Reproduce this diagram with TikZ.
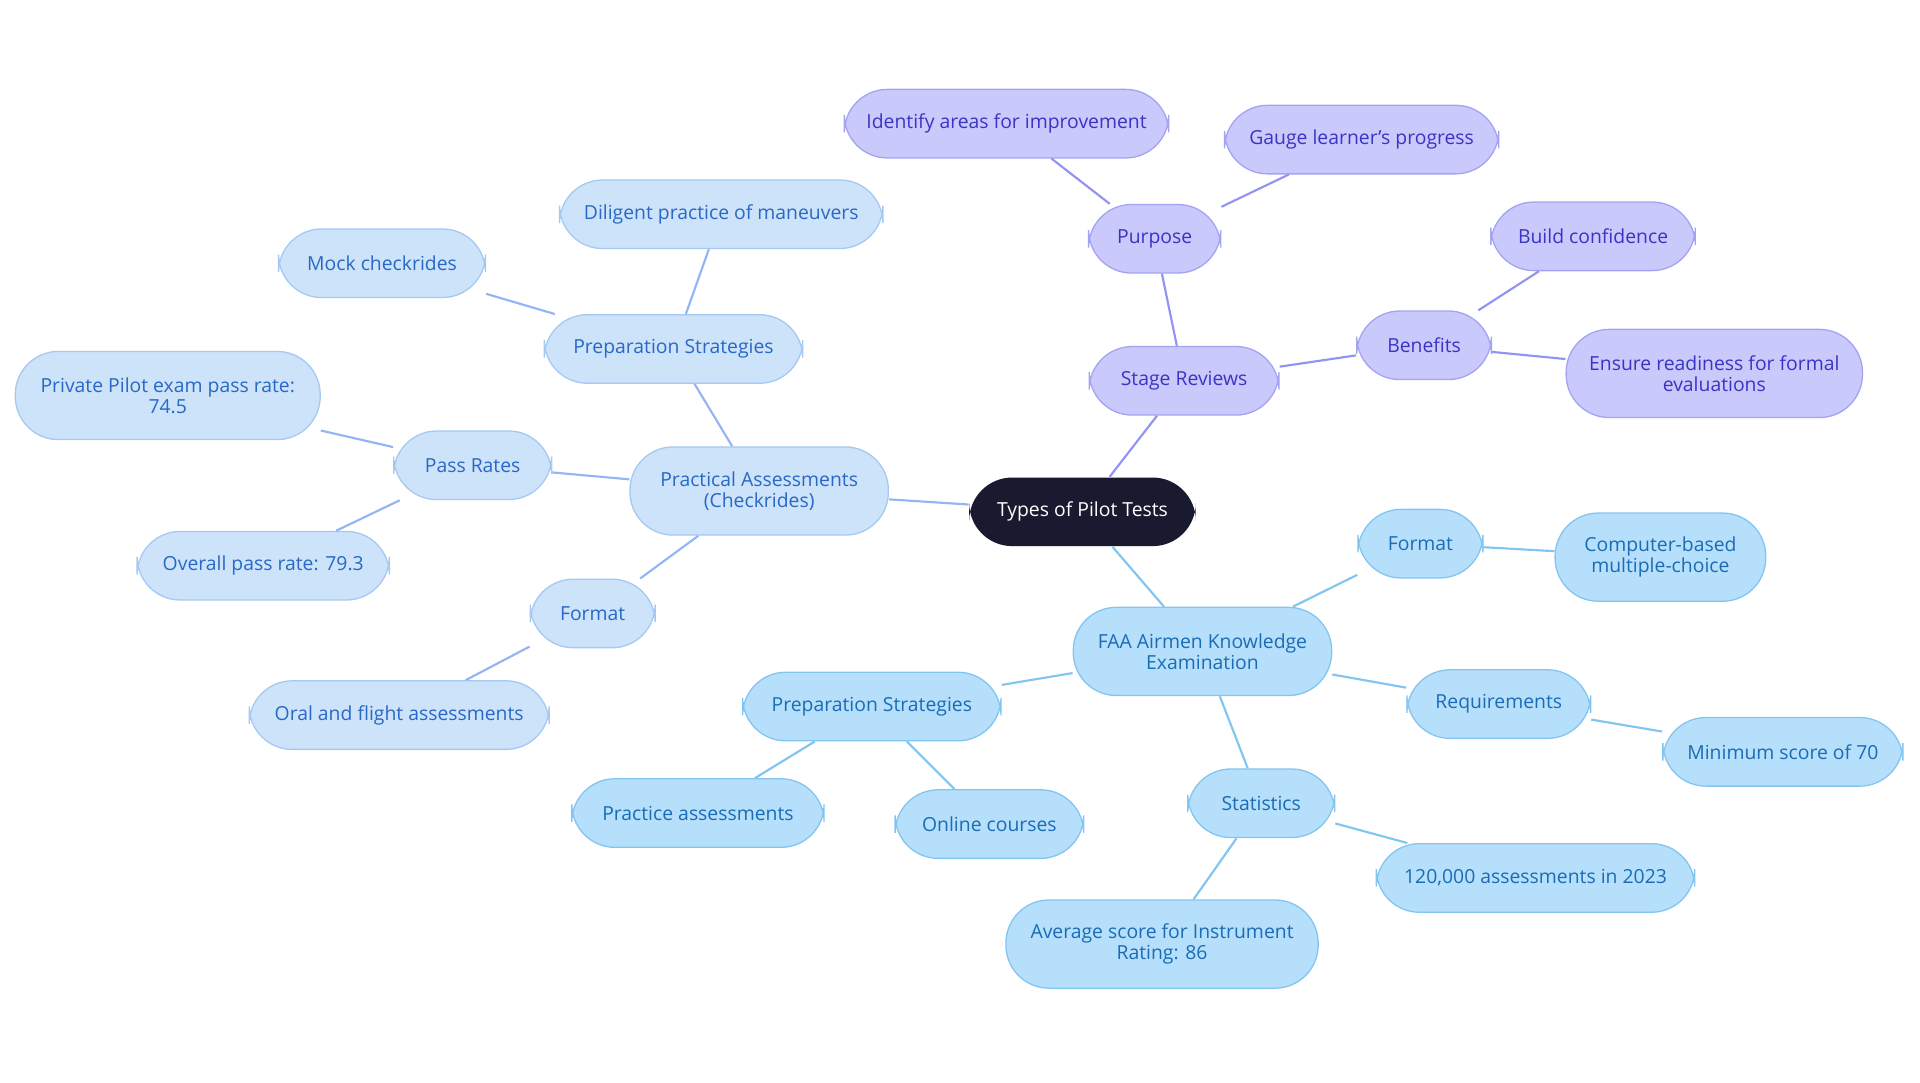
\documentclass[tikz,border=0pt]{standalone}
\usepackage{fontspec}
\setmainfont{Open Sans}
\usetikzlibrary{positioning}
\definecolor{purfill}{HTML}{C9C9FB}
\definecolor{purline}{HTML}{A3A3F2}
\definecolor{purtext}{HTML}{3A34C4}
\definecolor{lbfill}{HTML}{CDE3FA}
\definecolor{lbline}{HTML}{A5C9F2}
\definecolor{lbtext}{HTML}{2868C6}
\definecolor{bfill}{HTML}{B5DFFB}
\definecolor{bline}{HTML}{82C5F1}
\definecolor{btext}{HTML}{1B6CB5}
\begin{document}
\begin{tikzpicture}[x=0.02cm,y=-0.02cm,
	topic/.style={
	rectangle,rounded corners=20pt,
	line width=0.6pt,
	minimum height=56*0.02cm,
	inner xsep=8pt,
	align=center,
	font=\fontsize{9}{9.6}\selectfont
	},pur/.style={topic,fill=purfill,draw=purline,text=purtext
	},lb/.style={topic,fill=lbfill,draw=lbline,text=lbtext
	},bl/.style={topic,fill=bfill,draw=bline,text=btext
	},root/.style={topic,fill=black!90!blue!90,text=white,minimum width=185*0.02cm
	},wide/.style={minimum width=#1*0.02cm},
	purlink/.style={draw=purline!90!blue,line width=1pt},
	lblink/.style={draw=lbline!90!blue,line width=1pt},
	blink/.style={draw=bline,line width=1pt}
]
\useasboundingbox (0,0) rectangle (1568,884);

% root
\node (root) [root] at (884,418) {Types of Pilot Tests};

% stage reviews branch
\node (stage) [pur,wide=155] at (967,311) {Stage Reviews};
\node (purpose) [pur,wide=108] at (943,195) {Purpose};
\node (identify) [pur,wide=265] at (822,101) {Identify areas for improvement};
\node (gauge) [pur,wide=224] at (1112,114) {Gauge learner's progress};
\node (benefits) [pur,wide=110] at (1163,282) {Benefits};
\node (confid) [pur,wide=167] at (1301,193) {Build confidence};
\node (ready) [pur,wide=242,minimum height=72*0.02cm] at (1400,305) {Ensure readiness for formal\\evaluations};

% practical assessments branch
\node (practical) [lb,wide=211,minimum height=72*0.02cm] at (620,401) {Practical Assessments\\(Checkrides)};
\node (prep1) [lb,wide=211] at (550,285) {Preparation Strategies};
\node (diligent) [lb,wide=264] at (589,175) {Diligent practice of maneuvers};
\node (mock) [lb,wide=169] at (312,215) {Mock checkrides};
\node (pass) [lb,wide=129] at (386,380) {Pass Rates};
\node (private) [lb,wide=249,minimum height=72*0.02cm] at (137,323) {Private Pilot exam pass rate:\\74.5};
\node (overall) [lb,wide=206] at (215,462) {Overall pass rate: 79.3};
\node (format1) [lb,wide=102] at (484,501) {Format};
\node (oral) [lb,wide=245] at (326,584) {Oral and flight assessments};

% knowledge exam branch
\node (faa) [bl,wide=211,minimum height=72*0.02cm] at (982,532) {FAA Airmen Knowledge\\Examination};
\node (format2) [bl,wide=102] at (1160,444) {Format};
\node (computer) [bl,wide=172,minimum height=72*0.02cm] at (1356,455) {Computer-based\\multiple-choice};
\node (req) [bl,wide=150] at (1224,575) {Requirements};
\node (minscore) [bl,wide=196] at (1456,614) {Minimum score of 70};
\node (stats) [bl,wide=120] at (1030,656) {Statistics};
\node (count) [bl,wide=260] at (1254,717) {120,000 assessments in 2023};
\node (average) [bl,wide=255,minimum height=72*0.02cm] at (949,771) {Average score for Instrument\\Rating: 86};
\node (prep2) [bl,wide=211] at (712,577) {Preparation Strategies};
\node (practice) [bl,wide=206] at (570,664) {Practice assessments};
\node (online) [bl,wide=154] at (808,673) {Online courses};

\path	(root) edge[purlink] (stage)
	(stage) edge[purlink] (purpose)
	(purpose) edge[purlink] (identify)
	(purpose) edge[purlink] (gauge)
	(stage) edge[purlink] (benefits)
	(benefits) edge[purlink] (confid)
	(benefits) edge[purlink] (ready);
\path	(root) edge[lblink] (practical)
	(practical) edge[lblink] (prep1)
	(prep1) edge[lblink] (diligent)
	(prep1) edge[lblink] (mock)
	(practical) edge[lblink] (pass)
	(pass) edge[lblink] (private)
	(pass) edge[lblink] (overall)
	(practical) edge[lblink] (format1)
	(format1) edge[lblink] (oral);
\path	(root) edge[blink] (faa)
	(faa) edge[blink] (format2)
	(format2) edge[blink] (computer)
	(faa) edge[blink] (req)
	(req) edge[blink] (minscore)
	(faa) edge[blink] (stats)
	(stats) edge[blink] (count)
	(stats) edge[blink] (average)
	(faa) edge[blink] (prep2)
	(prep2) edge[blink] (practice)
	(prep2) edge[blink] (online);
\end{tikzpicture}
\end{document}
